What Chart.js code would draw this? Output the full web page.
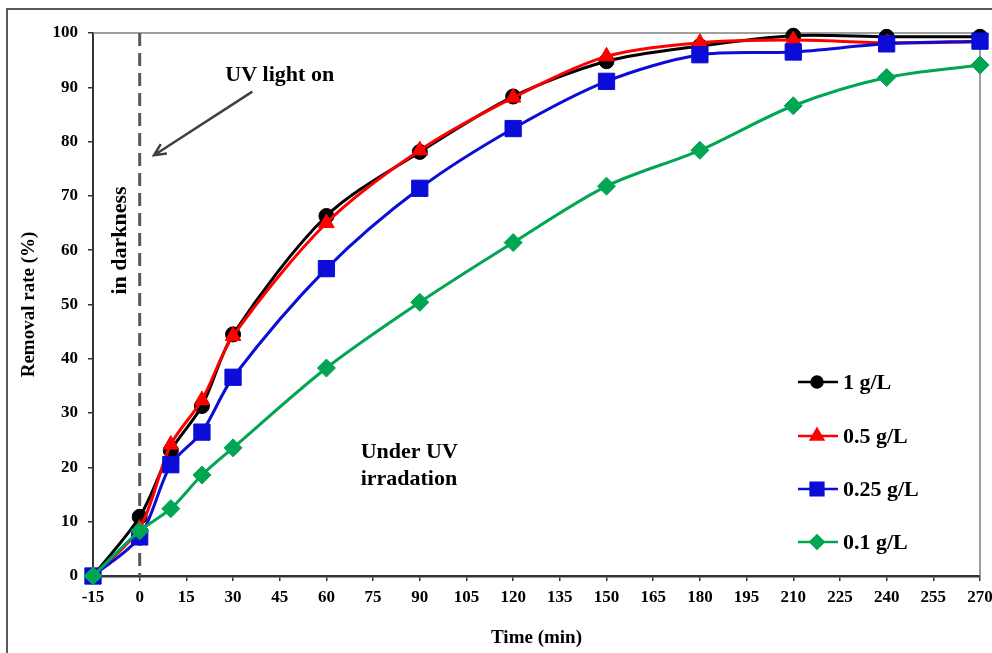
<!DOCTYPE html>
<html>
<head>
<meta charset="utf-8">
<title>Removal rate vs time</title>
<script src="https://cdn.jsdelivr.net/npm/chart.js@4.4.1/dist/chart.umd.min.js"></script>
<style>
    html, body { margin: 0; padding: 0; background: #fff; overflow: hidden; }
    #wrap { position: relative; width: 1010px; height: 653px; }
</style>
</head>
<body>
<div id="wrap"><canvas id="removalChart" width="1010" height="653"></canvas></div>
<script>
// Sampling times (min) and removal rates (%) per catalyst dose
const times = [-15, 0, 10, 20, 30, 60, 90, 120, 150, 180, 210, 240, 270];
const dose1 = [0, 10.9, 23.1, 31.3, 44.5, 66.3, 78.1, 88.3, 94.8, 97.6, 99.5, 99.3, 99.3];
const dose05 = [0, 8.8, 24.2, 32.4, 44.2, 65.0, 78.4, 88.1, 95.7, 98.2, 98.7, 98.2, 98.4];
const dose025 = [0, 7.2, 20.5, 26.5, 36.6, 56.6, 71.4, 82.4, 91.1, 96.0, 96.5, 98.0, 98.5];
const dose01 = [0, 8.3, 12.4, 18.6, 23.6, 38.3, 50.4, 61.4, 71.8, 78.4, 86.6, 91.8, 94.1];

const seriesLabels = ['1 g/L', '0.5 g/L', '0.25 g/L', '0.1 g/L'];
const seriesColors = ['#000000', '#ff0000', '#0c0cd8', '#00a651'];
const seriesPoints = ['circle', 'triangle', 'rect', 'rectRot'];

const FONT = '"Liberation Serif", "Times New Roman", serif';

Chart.defaults.font.family = FONT;
Chart.defaults.font.weight = 'bold';
Chart.defaults.color = '#000';

function toXY(values) {
    return times.map((t, i) => ({ x: t, y: values[i] }));
}

function makeDataset(idx, values, radius, order) {
    return {
        label: seriesLabels[idx],
        data: toXY(values),
        borderColor: seriesColors[idx],
        backgroundColor: seriesColors[idx],
        pointBackgroundColor: seriesColors[idx],
        pointBorderColor: seriesColors[idx],
        pointStyle: seriesPoints[idx],
        pointRadius: radius,
        pointBorderWidth: 1,
        borderWidth: 3,
        tension: 0.3,
        clip: false,
        order: order
    };
}

// Frame, plot box, dashed "UV on" marker and text annotations
const decorPlugin = {
    id: 'decor',
    beforeDraw(chart) {
        const ctx = chart.ctx;
        ctx.save();
        ctx.fillStyle = '#fff';
        ctx.fillRect(0, 0, chart.width, chart.height);
        ctx.strokeStyle = '#5a5a5a';
        ctx.lineWidth = 2;
        ctx.strokeRect(7, 9, 2000, 2000);
        ctx.restore();
    },
    beforeDatasetsDraw(chart) {
        const { ctx, chartArea: area } = chart;
        const xs = chart.scales.x;
        const ys = chart.scales.y;
        const px = v => xs.getPixelForValue(v);
        const py = v => ys.getPixelForValue(v);

        ctx.save();
        // top and right edges of the plot box
        ctx.strokeStyle = '#808080';
        ctx.lineWidth = 1.5;
        ctx.beginPath();
        ctx.moveTo(area.left, area.top);
        ctx.lineTo(area.right, area.top);
        ctx.lineTo(area.right, area.bottom);
        ctx.stroke();

        // light switched on at t = 0
        ctx.strokeStyle = '#595959';
        ctx.lineWidth = 3;
        ctx.setLineDash([13, 7]);
        ctx.beginPath();
        ctx.moveTo(px(0), area.top);
        ctx.lineTo(px(0), area.bottom);
        ctx.stroke();
        ctx.setLineDash([]);

        // arrow pointing at the dashed line
        const x1 = px(36.2), y1 = py(89.2);
        const x2 = px(4.6), y2 = py(77.5);
        const ang = Math.atan2(y2 - y1, x2 - x1);
        ctx.strokeStyle = '#404040';
        ctx.lineWidth = 2.5;
        ctx.beginPath();
        ctx.moveTo(x1, y1);
        ctx.lineTo(x2, y2);
        ctx.moveTo(x2 - 13 * Math.cos(ang - 0.45), y2 - 13 * Math.sin(ang - 0.45));
        ctx.lineTo(x2, y2);
        ctx.lineTo(x2 - 13 * Math.cos(ang + 0.45), y2 - 13 * Math.sin(ang + 0.45));
        ctx.stroke();

        ctx.fillStyle = '#000';
        ctx.font = 'bold 22px ' + FONT;
        ctx.textBaseline = 'alphabetic';
        ctx.textAlign = 'center';
        ctx.fillText('UV light on', px(45), py(91.2));

        ctx.textAlign = 'left';
        ctx.fillText('Under UV', px(71), py(21.7));
        ctx.fillText('irradation', px(71), py(16.8));

        ctx.translate(px(-6.3), py(61.8));
        ctx.rotate(-Math.PI / 2);
        ctx.textAlign = 'center';
        ctx.textBaseline = 'middle';
        ctx.fillText('in darkness', 0, 0);
        ctx.restore();
    },
    afterDraw(chart) {
        // legend block inside the plot, lower right
        const ctx = chart.ctx;
        const rows = [382, 436, 489, 542];
        const radii = [5.5, 7, 9, 6.5];
        ctx.save();
        rows.forEach((y, i) => {
            ctx.strokeStyle = seriesColors[i];
            ctx.lineWidth = 2.5;
            ctx.beginPath();
            ctx.moveTo(798, y);
            ctx.lineTo(838, y);
            ctx.stroke();
            ctx.fillStyle = seriesColors[i];
            Chart.helpers.drawPoint(ctx, {
                pointStyle: seriesPoints[i],
                radius: radii[i],
                borderWidth: 1
            }, 817, y);
            ctx.fill();
            ctx.fillStyle = '#000';
            ctx.font = 'bold 22px ' + FONT;
            ctx.textAlign = 'left';
            ctx.textBaseline = 'middle';
            ctx.fillText(seriesLabels[i], 843, y + 1);
        });
        ctx.restore();
    }
};

const ctx = document.getElementById('removalChart').getContext('2d');
new Chart(ctx, {
    type: 'line',
    data: {
        datasets: [
            makeDataset(0, dose1, 7.5, 4),
            makeDataset(1, dose05, 9, 3),
            makeDataset(2, dose025, 11.5, 2),
            makeDataset(3, dose01, 9, 1)
        ]
    },
    options: {
        responsive: false,
        animation: false,
        layout: {
            padding: { left: 0, top: 33, right: 30, bottom: 0 }
        },
        plugins: {
            legend: { display: false },
            tooltip: { enabled: false }
        },
        scales: {
            x: {
                type: 'linear',
                min: -15,
                max: 270,
                afterFit: scale => { scale.height = 77; },
                ticks: {
                    stepSize: 15,
                    padding: 6,
                    font: { size: 17, weight: 'bold' },
                    color: '#000'
                },
                grid: {
                    drawOnChartArea: false,
                    drawTicks: true,
                    tickLength: 5,
                    color: '#333',
                    lineWidth: 1.5
                },
                border: { display: true, color: '#333', width: 2.5 },
                title: {
                    display: true,
                    text: 'Time (min)',
                    font: { size: 19, weight: 'bold' },
                    padding: { top: 0, bottom: 4 },
                    color: '#000'
                }
            },
            y: {
                min: 0,
                max: 100,
                afterFit: scale => { scale.width = 93; },
                ticks: {
                    stepSize: 10,
                    padding: 10,
                    font: { size: 17, weight: 'bold' },
                    color: '#000'
                },
                grid: {
                    drawOnChartArea: false,
                    drawTicks: true,
                    tickLength: 5,
                    color: '#333',
                    lineWidth: 1.5
                },
                border: { display: true, color: '#333', width: 2 },
                title: {
                    display: true,
                    text: 'Removal rate (%)',
                    font: { size: 19, weight: 'bold' },
                    padding: { top: 18, bottom: 0 },
                    color: '#000'
                }
            }
        }
    },
    plugins: [decorPlugin]
});
</script>
</body>
</html>
